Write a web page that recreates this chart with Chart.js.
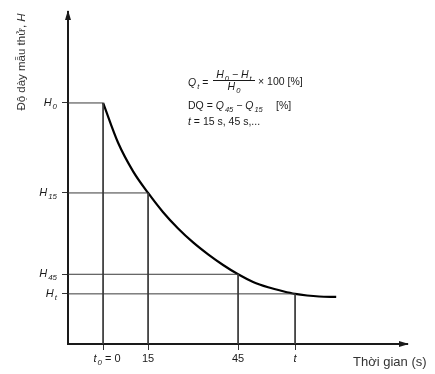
<!DOCTYPE html>
<html>
<head>
<meta charset="utf-8">
<script src="https://cdn.jsdelivr.net/npm/chart.js@4.4.1/dist/chart.umd.min.js"></script>
<style>
  html, body { margin: 0; padding: 0; background: #fff; }
  #wrap { width: 435px; height: 374px; }
</style>
</head>
<body>
<div id="wrap"><canvas id="chart"></canvas></div>
<script>
// thickness curve (x: seconds, y: relative thickness)
var curveT = [0, 5, 10, 15, 20, 25, 30, 35, 40, 45, 50, 55, 60, 64, 68, 72, 77.7];
var curveH = [72.6, 60.6, 52.0, 45.5, 39.7, 34.8, 30.6, 27.0, 23.8, 21.0, 18.7, 17.1, 15.9, 15.1, 14.6, 14.3, 14.2];

// marked times and the thickness read at each of them
var markT = [0, 15, 45, 64];
var markH = [72.6, 45.5, 21, 15.1];

// tick labels as [main, subscript, rest]
var xTickLabels = [['t', '0', ' = 0'], ['15', '', ''], ['45', '', ''], ['t', '', '']];
var yTickLabels = [['H', '0', ''], ['H', '15', ''], ['H', '45', ''], ['H', 't', '']];

var X_MIN = -11.7, X_MAX = 101.3;

var INK = '#1a1a1a';
var FONT = '"Liberation Sans", Arial, sans-serif';

function italic(size) { return 'italic ' + size + 'px ' + FONT; }
function upright(size) { return size + 'px ' + FONT; }

// width of a [main, sub, rest] label
function partsWidth(ctx, parts, size, mainItalic) {
	ctx.font = mainItalic ? italic(size) : upright(size);
	var w = ctx.measureText(parts[0]).width;
	ctx.font = italic(size * 0.72);
	w += parts[1] ? ctx.measureText(parts[1]).width + 1 : 0;
	ctx.font = upright(size);
	w += ctx.measureText(parts[2]).width;
	return w;
}

// draws main text, a lowered subscript and the rest, from a left x
function drawParts(ctx, parts, x, y, size, mainItalic) {
	ctx.textAlign = 'left';
	ctx.textBaseline = 'alphabetic';
	ctx.font = mainItalic ? italic(size) : upright(size);
	ctx.fillText(parts[0], x, y);
	x += ctx.measureText(parts[0]).width;
	if (parts[1]) {
		ctx.font = italic(size * 0.72);
		ctx.fillText(parts[1], x + 1, y + size * 0.25);
		x += ctx.measureText(parts[1]).width + 1;
	}
	ctx.font = upright(size);
	ctx.fillText(parts[2], x, y);
	return x + ctx.measureText(parts[2]).width;
}

// guide lines: from the y axis across to the curve, then down to the x axis
var guides = markT.map(function (t, i) {
	return {
		data: [ { x: X_MIN, y: markH[i] }, { x: t, y: markH[i] }, { x: t, y: 0 } ],
		borderColor: '#3a3a3a',
		borderWidth: 1,
		pointRadius: 0,
		showLine: true,
		tension: 0
	};
});

var curve = {
	data: curveT.map(function (t, i) { return { x: t, y: curveH[i] }; }),
	borderColor: '#000',
	borderWidth: 2.2,
	pointRadius: 0,
	showLine: true,
	cubicInterpolationMode: 'monotone'
};

var decorPlugin = {
	id: 'decor',
	afterDraw: function (chart) {
		var ctx = chart.ctx;
		var area = chart.chartArea;
		var xs = chart.scales.x, ys = chart.scales.y;
		ctx.save();
		ctx.fillStyle = INK;

		// axis arrows
		ctx.beginPath();
		ctx.moveTo(area.left, area.top - 2);
		ctx.lineTo(area.left - 3, area.top + 8);
		ctx.lineTo(area.left + 3, area.top + 8);
		ctx.closePath();
		ctx.fill();
		ctx.beginPath();
		ctx.moveTo(area.right + 2, area.bottom);
		ctx.lineTo(area.right - 8, area.bottom - 3);
		ctx.lineTo(area.right - 8, area.bottom + 3);
		ctx.closePath();
		ctx.fill();

		// tick labels
		markH.forEach(function (h, i) {
			var w = partsWidth(ctx, yTickLabels[i], 11, true);
			drawParts(ctx, yTickLabels[i], area.left - 11 - w, ys.getPixelForValue(h) + 3, 11, true);
		});
		markT.forEach(function (t, i) {
			var lbl = xTickLabels[i];
			var it = lbl[0] === 't';
			var w = partsWidth(ctx, lbl, 11, it);
			var px = xs.getPixelForValue(t) + (i === 0 ? 4 : 0);
			drawParts(ctx, lbl, px - w / 2, area.bottom + 18, 11, it);
		});

		// axis titles
		ctx.fillStyle = '#333';
		ctx.font = upright(13);
		ctx.textAlign = 'left';
		ctx.textBaseline = 'alphabetic';
		ctx.fillText('Thời gian (s)', 353, 366);

		ctx.save();
		ctx.translate(25, 62);
		ctx.rotate(-Math.PI / 2);
		var a = 'Độ dày mẫu thử, ';
		ctx.font = upright(11.5);
		var wa = ctx.measureText(a).width;
		ctx.font = italic(11.5);
		var wb = ctx.measureText('H').width;
		var x0 = -(wa + wb) / 2;
		ctx.font = upright(11.5);
		ctx.fillText(a, x0, 0);
		ctx.font = italic(11.5);
		ctx.fillText('H', x0 + wa, 0);
		ctx.restore();

		// formulas
		ctx.fillStyle = INK;
		var fs = 10.5;
		drawParts(ctx, ['Q', 't', ' = '], 188, 86, fs, true);
		var num = ['H', '0', ' − '];
		var wn = partsWidth(ctx, num, fs, true) + partsWidth(ctx, ['H', 't', ''], fs, true);
		var cx = 234;
		var nx = drawParts(ctx, num, cx - wn / 2, 78, fs, true);
		drawParts(ctx, ['H', 't', ''], nx, 78, fs, true);
		var wd = partsWidth(ctx, ['H', '0', ''], fs, true);
		drawParts(ctx, ['H', '0', ''], cx - wd / 2, 90, fs, true);
		ctx.strokeStyle = INK;
		ctx.lineWidth = 1;
		ctx.beginPath();
		ctx.moveTo(213, 80.5);
		ctx.lineTo(255, 80.5);
		ctx.stroke();
		ctx.font = upright(fs);
		ctx.textAlign = 'left';
		ctx.fillText('× 100 [%]', 258, 85);

		var x = drawParts(ctx, ['DQ = ', '', ''], 188, 109, fs, false);
		x = drawParts(ctx, ['Q', '45', ' − '], x, 109, fs, true);
		drawParts(ctx, ['Q', '15', ''], x, 109, fs, true);
		ctx.font = upright(fs);
		ctx.fillText('[%]', 276, 109);

		drawParts(ctx, ['t', '', ' = 15 s, 45 s,...'], 188, 125, fs, true);
		ctx.restore();
	}
};

new Chart(document.getElementById('chart'), {
	type: 'scatter',
	data: { datasets: guides.concat([curve]) },
	options: {
		responsive: true,
		maintainAspectRatio: false,
		animation: false,
		layout: { padding: { top: 12, right: 28, left: 0, bottom: 0 } },
		plugins: { legend: { display: false }, tooltip: { enabled: false } },
		scales: {
			x: {
				type: 'linear',
				min: X_MIN,
				max: X_MAX,
				afterBuildTicks: function (scale) {
					scale.ticks = markT.map(function (v) { return { value: v }; });
				},
				afterFit: function (scale) { scale.height = 30; },
				ticks: { display: false },
				grid: { drawOnChartArea: false, drawTicks: true, tickLength: 6, color: '#333', lineWidth: 1 },
				border: { display: true, color: INK, width: 2 }
			},
			y: {
				type: 'linear',
				min: 0,
				max: 100,
				afterBuildTicks: function (scale) {
					scale.ticks = markH.map(function (v) { return { value: v }; });
				},
				afterFit: function (scale) { scale.width = 68; },
				ticks: { display: false },
				grid: { drawOnChartArea: false, drawTicks: true, tickLength: 6, color: '#333', lineWidth: 1 },
				border: { display: true, color: INK, width: 2 }
			}
		}
	},
	plugins: [decorPlugin]
});
</script>
</body>
</html>
